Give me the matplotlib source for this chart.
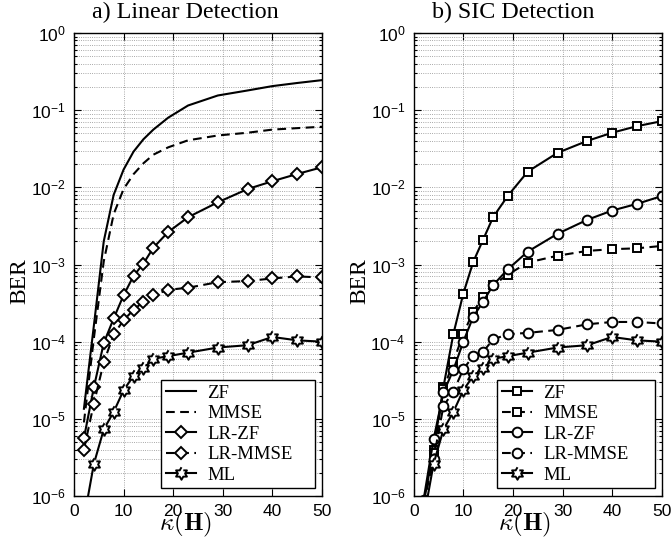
import numpy as np
import matplotlib
matplotlib.use("Agg")
import matplotlib.pyplot as plt
from matplotlib.ticker import FixedLocator, FixedFormatter, LogLocator, NullFormatter

# ---------------- data ----------------
kappa = [2, 4, 6, 8, 10, 12, 14, 16, 19, 23, 29, 35, 40, 45, 50]

# a) Linear detection
zf_lin = [1.35e-5, 1.6e-4, 2.0e-3, 8.0e-3, 1.7e-2, 2.9e-2, 4.2e-2, 5.6e-2, 8.0e-2,
          0.115, 0.155, 0.18, 0.205, 0.225, 0.245]
mmse_lin = [9.0e-6, 1.1e-4, 1.1e-3, 4.5e-3, 9.5e-3, 1.48e-2, 2.05e-2, 2.65e-2, 3.3e-2,
            4.07e-2, 4.7e-2, 5.1e-2, 5.6e-2, 5.85e-2, 6.1e-2]
lrzf_lin = [5.6e-6, 2.55e-5, 9.6e-5, 2.0e-4, 4.0e-4, 7.1e-4, 1.03e-3, 1.65e-3, 2.64e-3,
            4.1e-3, 6.4e-3, 9.5e-3, 1.2e-2, 1.49e-2, 1.82e-2]
lrmmse_lin = [4.0e-6, 1.58e-5, 5.4e-5, 1.24e-4, 1.9e-4, 2.58e-4, 3.3e-4, 4.0e-4, 4.7e-4,
              5.0e-4, 5.9e-4, 6.1e-4, 6.6e-4, 7.0e-4, 6.8e-4]
ml = [5.0e-7, 2.6e-6, 7.3e-6, 1.23e-5, 2.35e-5, 3.6e-5, 4.5e-5, 6.0e-5, 6.5e-5,
      7.2e-5, 8.4e-5, 9.0e-5, 1.15e-4, 1.04e-4, 1.0e-4]

# b) SIC detection
zf_sic = [8.0e-7, 4.0e-6, 2.6e-5, 1.26e-4, 4.2e-4, 1.08e-3, 2.1e-3, 4.1e-3, 7.8e-3,
          1.6e-2, 2.8e-2, 4.0e-2, 5.1e-2, 6.2e-2, 7.2e-2]
mmse_sic = [8.0e-7, 3.6e-6, 2.4e-5, 5.5e-5, 1.26e-4, 2.45e-4, 3.8e-4, 5.4e-4, 7.4e-4,
            1.06e-3, 1.3e-3, 1.5e-3, 1.58e-3, 1.62e-3, 1.74e-3]
lrzf_sic = [9.0e-7, 5.4e-6, 2.2e-5, 4.3e-5, 1.0e-4, 2.1e-4, 3.3e-4, 5.4e-4, 8.7e-4,
            1.47e-3, 2.5e-3, 3.8e-3, 5.0e-3, 6.1e-3, 7.7e-3]
lrmmse_sic = [8.0e-7, 3.0e-6, 1.47e-5, 2.25e-5, 4.4e-5, 6.5e-5, 7.4e-5, 1.07e-4, 1.25e-4,
              1.3e-4, 1.42e-4, 1.68e-4, 1.8e-4, 1.8e-4, 1.72e-4]

labels = ["ZF", "MMSE", "LR-ZF", "LR-MMSE", "ML"]
titles = ["a) Linear Detection", "b) SIC Detection"]
xticks = [0, 10, 20, 30, 40, 50]
yticks = [1e-6, 1e-5, 1e-4, 1e-3, 1e-2, 1e-1, 1e0]
yticklabels = [r"$10^{-6}$", r"$10^{-5}$", r"$10^{-4}$", r"$10^{-3}$",
               r"$10^{-2}$", r"$10^{-1}$", r"$10^{0}$"]

# ---------------- style ----------------
plt.rcParams["mathtext.fontset"] = "custom"
plt.rcParams["mathtext.rm"] = "Liberation Sans"
plt.rcParams["mathtext.it"] = "Liberation Sans:italic"
plt.rcParams["mathtext.bf"] = "Liberation Sans:bold"
plt.rcParams["font.family"] = ["Liberation Sans", "DejaVu Sans"]

SERIF = ["Liberation Serif", "DejaVu Serif"]

ang = np.pi / 2 + np.arange(12) * np.pi / 6
rad = np.where(np.arange(12) % 2 == 0, 1.0, 1.0 / np.sqrt(3))
hexagram = list(zip(rad * np.cos(ang), rad * np.sin(ang)))

fig = plt.figure(figsize=(6.71, 5.47), dpi=100)
W, H = 671.0, 547.0
ax_l = fig.add_axes([74 / W, 1 - 496 / H, 248 / W, 463 / H])
ax_r = fig.add_axes([413.7 / W, 1 - 496 / H, 248 / W, 463 / H])

lw = 1.5
dash = (4.2, 2.6)
common = dict(color="black", lw=lw, mfc="white", mec="black", mew=1.4)

# left panel
ax_l.semilogy(kappa, zf_lin, ls="-", label=labels[0], **common)
ax_l.semilogy(kappa, mmse_lin, ls="--", dashes=dash, label=labels[1], **common)
ax_l.semilogy(kappa, lrzf_lin, ls="-", marker="D", ms=6.5, label=labels[2], **common)
ax_l.semilogy(kappa, lrmmse_lin, ls="--", dashes=dash, marker="D", ms=6.5, label=labels[3], **common)
ax_l.semilogy(kappa, ml, ls="-", marker=hexagram, ms=9, label=labels[4], **common)

# right panel
ax_r.semilogy(kappa, zf_sic, ls="-", marker="s", ms=6, label=labels[0], **common)
ax_r.semilogy(kappa, mmse_sic, ls="--", dashes=dash, marker="s", ms=6, label=labels[1], **common)
ax_r.semilogy(kappa, lrzf_sic, ls="-", marker="o", ms=7, label=labels[2], **common)
ax_r.semilogy(kappa, lrmmse_sic, ls="--", dashes=dash, marker="o", ms=7, label=labels[3], **common)
ax_r.semilogy(kappa, ml, ls="-", marker=hexagram, ms=9, label=labels[4], **common)

panels = [(ax_l, titles[0], 185.5, 185, 161.3), (ax_r, titles[1], 513, 524, 497.3)]
for ax, title, tx, lx, legx in panels:
    x0 = ax.get_position().x0 * W
    ax.set_xlim(0, 50)
    ax.set_ylim(1e-6, 1e0)
    ax.xaxis.set_major_locator(FixedLocator(xticks))
    ax.set_xticklabels([str(v) for v in xticks])
    ax.yaxis.set_major_locator(FixedLocator(yticks))
    ax.yaxis.set_major_formatter(FixedFormatter(yticklabels))
    ax.yaxis.set_minor_locator(LogLocator(base=10, subs=np.arange(2, 10), numticks=20))
    ax.yaxis.set_minor_formatter(NullFormatter())
    ax.tick_params(which="both", direction="in", top=True, right=True, labelsize=12.5,
                   width=0.8)
    ax.tick_params(which="major", length=5, pad=6)
    ax.tick_params(which="minor", length=2.5)
    ax.grid(True, which="major", axis="both", ls=":", color="0.55", lw=0.6)
    ax.grid(True, which="minor", axis="y", ls=":", color="0.55", lw=0.6)
    for sp in ax.spines.values():
        sp.set_linewidth(1.0)
    ax.set_ylabel("BER", family=SERIF, fontsize=17)
    ax.yaxis.set_label_coords(-0.175, 0.464)
    ax.set_xlabel(r"$\kappa(\mathbf{H})$", fontsize=18, math_fontfamily="cm")
    ax.xaxis.set_label_coords((lx - x0) / 248.0, -0.030)
    fig.text(tx / W, 1 - 18.5 / H, title, ha="center", va="baseline",
             family=SERIF, fontsize=17.3)
    bx0 = (legx - x0) / 248.0
    leg = ax.legend(loc="lower left", bbox_to_anchor=(bx0, 0.0166, 0.973 - bx0, 0.24),
                    mode="expand", borderaxespad=0,
                    prop={"family": SERIF, "size": 13.5}, fancybox=False, framealpha=1,
                    edgecolor="black", handlelength=1.6, handletextpad=0.6,
                    labelspacing=0.18, borderpad=0.25, numpoints=1)
    leg.get_frame().set_linewidth(1.0)

fig.savefig("out.png", dpi=100)
